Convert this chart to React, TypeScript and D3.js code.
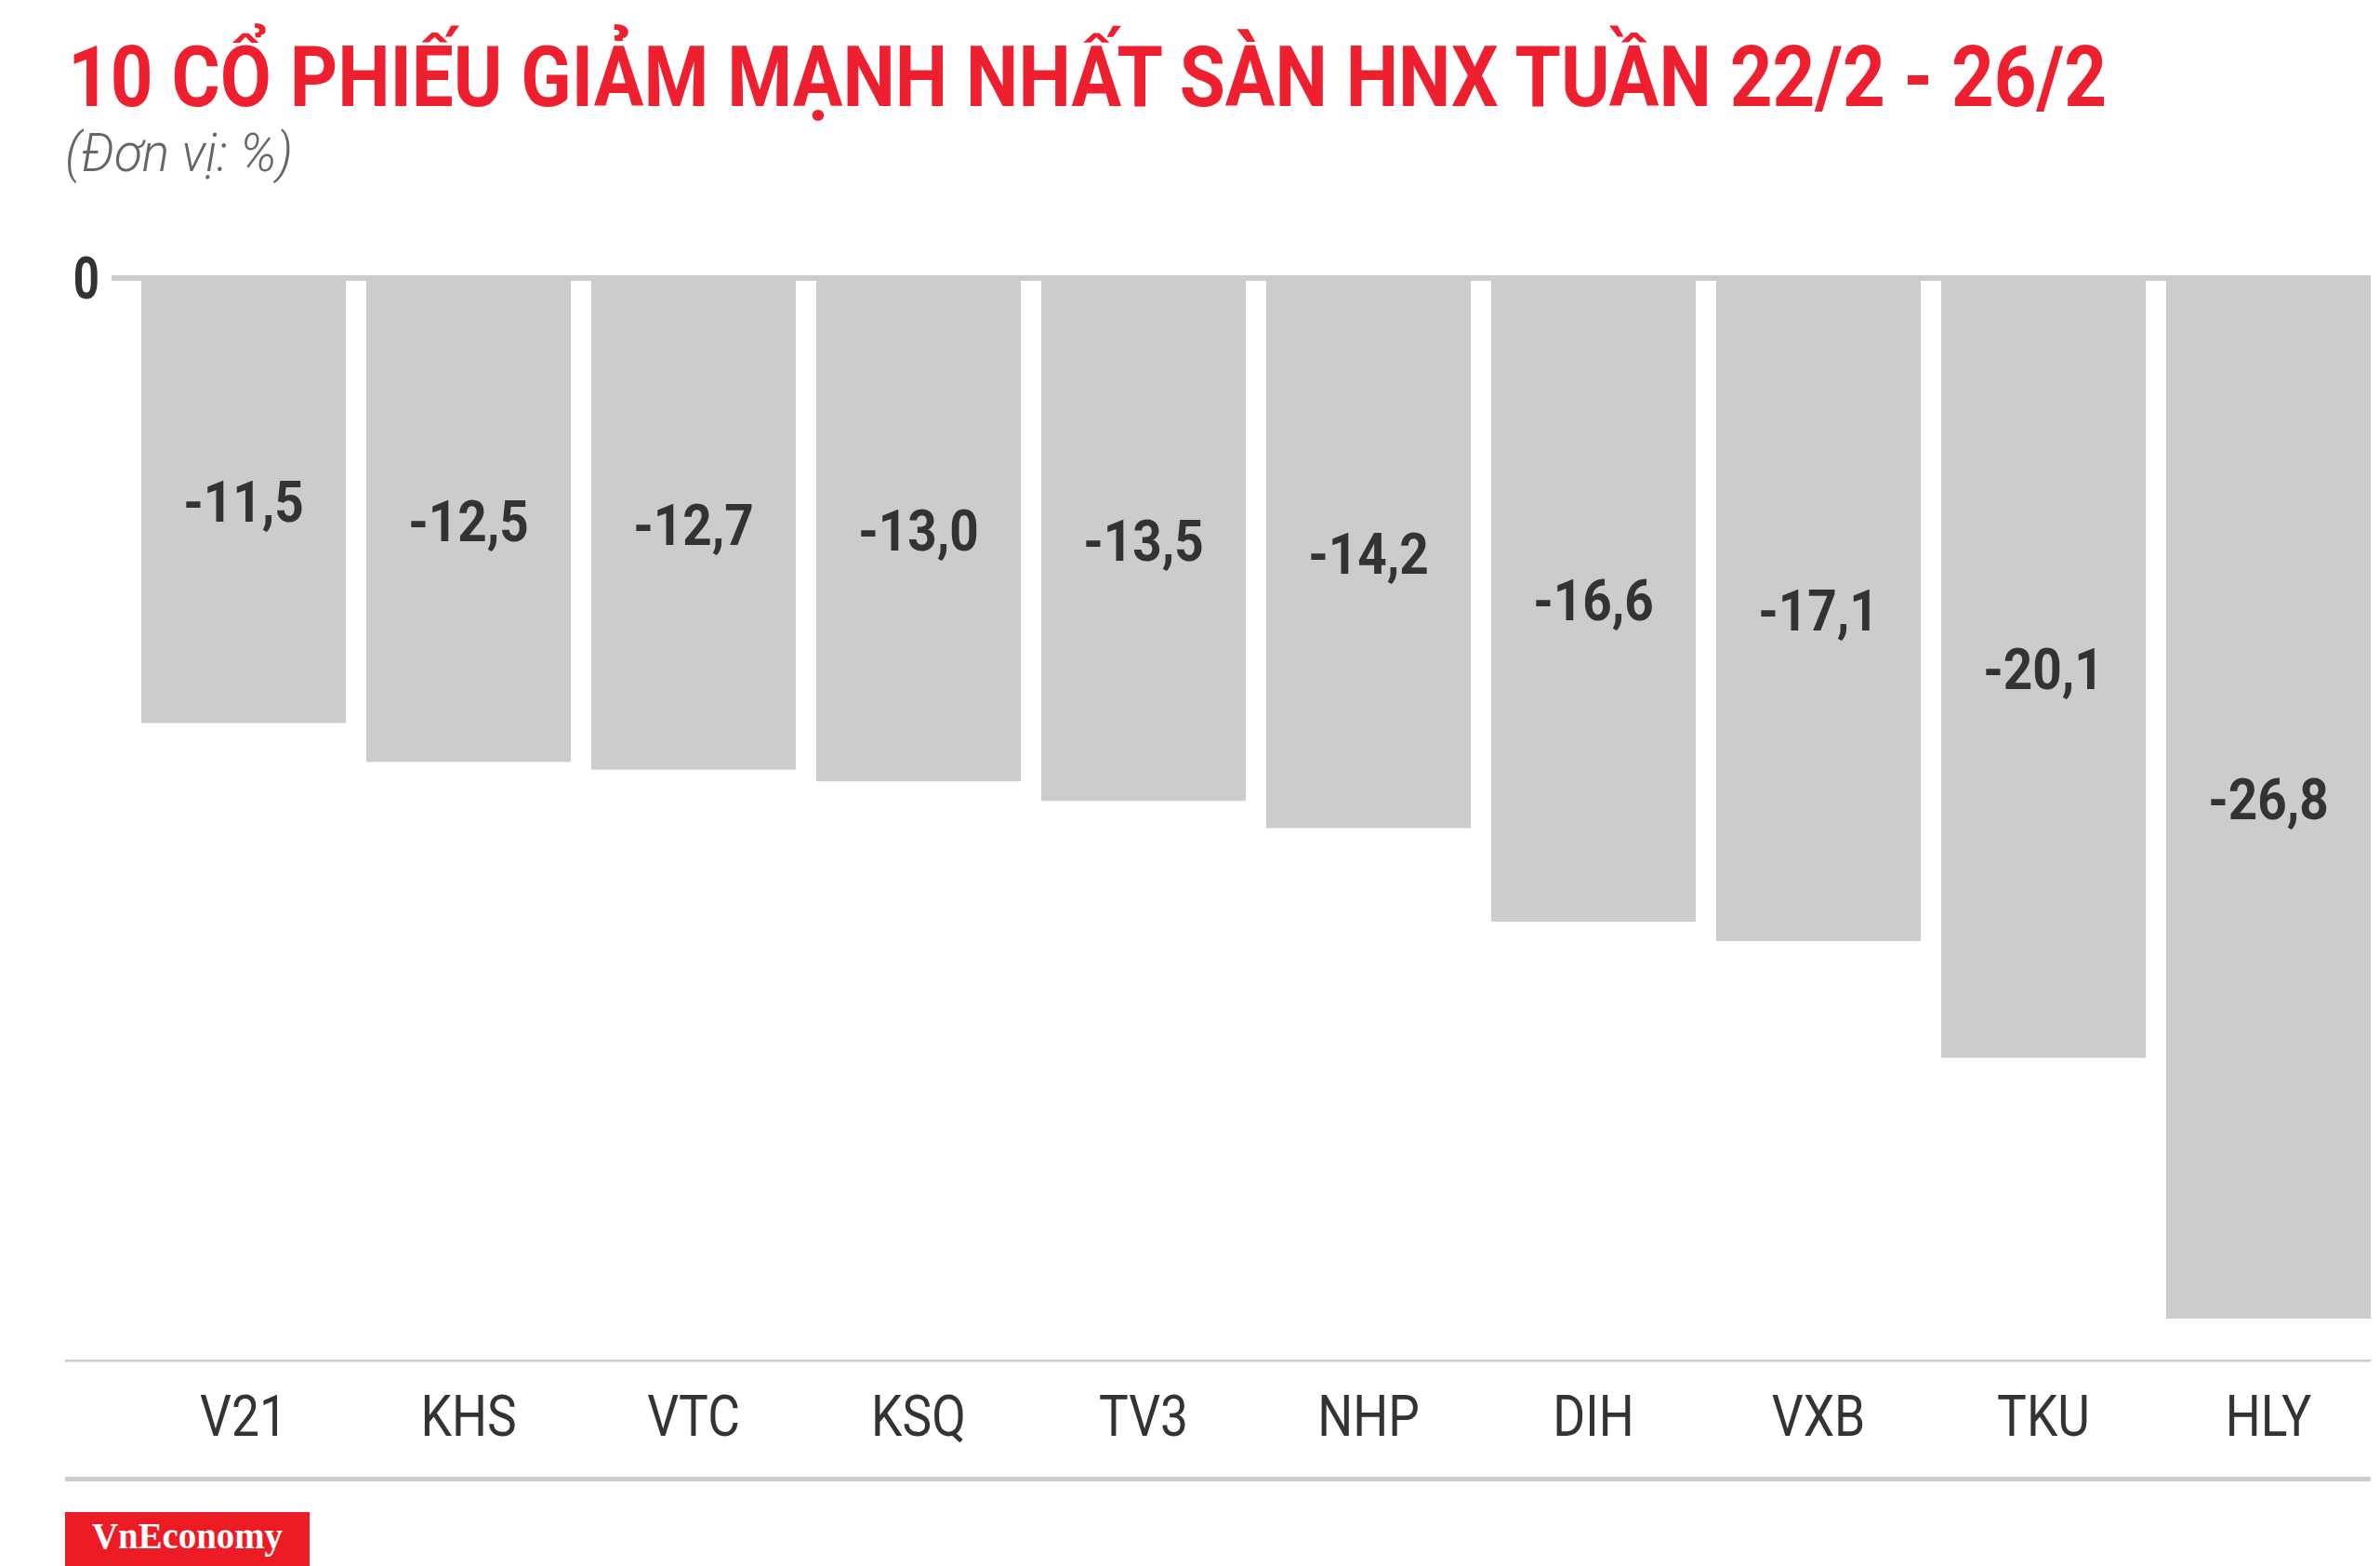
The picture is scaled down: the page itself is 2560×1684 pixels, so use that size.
import React from "react";
import * as d3 from "d3";

const categories = ["V21", "KHS", "VTC", "KSQ", "TV3", "NHP", "DIH", "VXB", "TKU", "HLY"];
const values = [-11.5, -12.5, -12.7, -13.0, -13.5, -14.2, -16.6, -17.1, -20.1, -26.8];
const titleText = "10 CỔ PHIẾU GIẢM MẠNH NHẤT SÀN HNX TUẦN 22/2 - 26/2";
const subtitleText = "(Đơn vị: %)";
const zeroTick = "0";
const brand = "VnEconomy";

const W = 2560;
const H = 1684;

export default function App() {
  const x = d3
    .scaleBand<string>()
    .domain(categories)
    .range([152, 2550])
    .paddingInner(22 / 242)
    .paddingOuter(0);
  const y = d3.scaleLinear().domain([0, -30]).range([296, 1552]);
  const fmt = (v: number) => d3.format(".1f")(v).replace("−", "-").replace(".", ",");
  const font = "Roboto, 'Noto Sans', sans-serif";

  return (
    <svg
      width={W}
      height={H}
      viewBox={`0 0 ${W} ${H}`}
      style={{ position: "absolute", left: 0, top: 0, background: "#fff", display: "block" }}
    >
      <rect x={0} y={0} width={W} height={H} fill="#fff" />
      {/* Title */}
      <text
        x={73}
        y={114}
        fontFamily={font}
        fontWeight={700}
        fontSize={91}
        fill="#ee1f2e"
        textLength={2193}
        lengthAdjust="spacingAndGlyphs"
      >
        {titleText}
      </text>
      <text
        x={70}
        y={184}
        fontFamily={font}
        fontWeight={300}
        fontStyle="italic"
        fontSize={58}
        fill="#666"
        textLength={245}
        lengthAdjust="spacingAndGlyphs"
      >
        {subtitleText}
      </text>

      {/* zero line */}
      <rect x={120} y={y(0)} width={2550 - 120} height={6} fill="#cccccc" />
      <text
        transform={`translate(107,${y(0) + 25}) scale(0.78,1)`}
        textAnchor="end"
        fontFamily={font}
        fontWeight={700}
        fontSize={63}
        fill="#333"
      >
        {zeroTick}
      </text>

      {/* bars */}
      {categories.map((c, i) => {
        const v = values[i];
        const x0 = x(c) as number;
        const bw = x.bandwidth();
        const top = y(0);
        const bot = y(v);
        const mid = (top + bot) / 2;
        return (
          <g key={c}>
            <rect x={x0} y={top} width={bw} height={bot - top} fill="#cccccc" />
            <text
              transform={`translate(${x0 + bw / 2},${mid + 24}) scale(0.9,1)`}
              textAnchor="middle"
              fontFamily={font}
              fontWeight={700}
              fontSize={61}
              fill="#333"
            >
              {fmt(v)}
            </text>
            <text
              transform={`translate(${x0 + bw / 2},${1544}) scale(0.86,1)`}
              textAnchor="middle"
              fontFamily={font}
              fontWeight={400}
              fontSize={62}
              fill="#333"
            >
              {c}
            </text>
          </g>
        );
      })}

      {/* baseline lines */}
      <rect x={70} y={1462} width={2550 - 70} height={2.5} fill="#cccccc" />
      <rect x={70} y={1588} width={2550 - 70} height={5} fill="#cccccc" />

      {/* brand */}
      <rect x={70} y={1626} width={263} height={58} fill="#ed1c24" />
      <text
        x={99}
        y={1665}
        fontFamily="'Liberation Serif', 'Times New Roman', serif"
        fontWeight={700}
        fontSize={41}
        fill="#fff"
        textLength={205}
        lengthAdjust="spacingAndGlyphs"
      >
        {brand}
      </text>
    </svg>
  );
}
